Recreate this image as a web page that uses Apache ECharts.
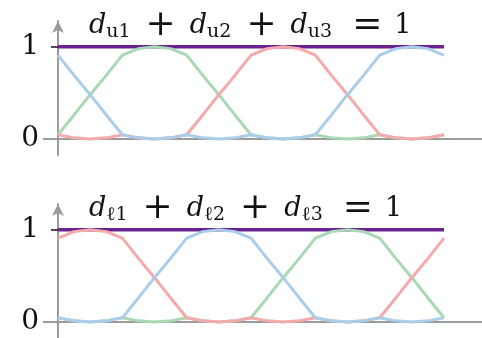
<!DOCTYPE html>
<html>
<head>
<meta charset="utf-8">
<script src="https://cdn.jsdelivr.net/npm/echarts@6/dist/echarts.min.js"></script>
<style>
  html, body { margin: 0; padding: 0; background: #fff; }
  #chart { width: 482px; height: 338px; }
</style>
</head>
<body>
<div id="chart"></div>
<script>
// Positions along the horizontal axis (six segments, quarter steps)
const knots = [0, 0.25, 0.5, 0.75, 1, 1.25, 1.5, 1.75, 2, 2.25, 2.5, 2.75, 3,
               3.25, 3.5, 3.75, 4, 4.25, 4.5, 4.75, 5, 5.25, 5.5, 5.75, 6];

// Upper panel: d_u1 (blue), d_u2 (green), d_u3 (red)
const upperBlue  = [0.91, 0.69, 0.48, 0.26, 0.045, 0.011, 0, 0.011, 0.045, 0.011, 0, 0.011, 0.045,
                    0.011, 0, 0.011, 0.045, 0.26, 0.48, 0.69, 0.91, 0.98, 1, 0.98, 0.91];
const upperGreen = [0.045, 0.26, 0.48, 0.69, 0.91, 0.98, 1, 0.98, 0.91, 0.69, 0.48, 0.26, 0.045,
                    0.011, 0, 0.011, 0.045, 0.011, 0, 0.011, 0.045, 0.011, 0, 0.011, 0.045];
const upperRed   = [0.045, 0.011, 0, 0.011, 0.045, 0.011, 0, 0.011, 0.045, 0.26, 0.48, 0.69, 0.91,
                    0.98, 1, 0.98, 0.91, 0.69, 0.48, 0.26, 0.045, 0.011, 0, 0.011, 0.045];

// Lower panel: d_l1 (red), d_l2 (blue), d_l3 (green)
const lowerRed   = [0.91, 0.98, 1, 0.98, 0.91, 0.69, 0.48, 0.26, 0.045, 0.011, 0, 0.011, 0.045,
                    0.011, 0, 0.011, 0.045, 0.011, 0, 0.011, 0.045, 0.26, 0.48, 0.69, 0.91];
const lowerBlue  = [0.045, 0.011, 0, 0.011, 0.045, 0.26, 0.48, 0.69, 0.91, 0.98, 1, 0.98, 0.91,
                    0.69, 0.48, 0.26, 0.045, 0.011, 0, 0.011, 0.045, 0.011, 0, 0.011, 0.045];
const lowerGreen = [0.045, 0.011, 0, 0.011, 0.045, 0.011, 0, 0.011, 0.045, 0.011, 0, 0.011, 0.045,
                    0.26, 0.48, 0.69, 0.91, 0.98, 1, 0.98, 0.91, 0.69, 0.48, 0.26, 0.045];

// The constant sum line
const sumX = [0, 6];
const sumY = [1, 1];

// Tick labels on the vertical axes
const yTicks = [0, 1];

const COLORS = { blue: '#aacdea', green: '#a8d8b4', red: '#f5a9aa', sum: '#6a2391', axis: '#9b9b9b' };
const SERIF = 'DejaVu Serif';
const Y_MIN = -0.175, Y_MAX = 1.28;

const pair = (xs, ys) => xs.map((x, i) => [x, ys[i]]);

function curve(name, ys, color, grid, z) {
  return {
    name, type: 'line', xAxisIndex: grid, yAxisIndex: grid * 2,
    data: pair(knots, ys), symbol: 'none', smooth: false, z,
    lineStyle: { color, width: 3 }, silent: true
  };
}

function sumSeries(grid) {
  return {
    type: 'line', xAxisIndex: grid, yAxisIndex: grid * 2,
    data: pair(sumX, sumY), symbol: 'none', z: 2,
    lineStyle: { color: COLORS.sum, width: 3.5 }, silent: true
  };
}

function xAxisFor(grid) {
  return {
    type: 'value', gridIndex: grid, min: 0, max: 6.59,
    axisLine: { onZero: true, lineStyle: { color: COLORS.axis, width: 2 } },
    axisTick: { show: false }, axisLabel: { show: false }, splitLine: { show: false }
  };
}

// Main vertical axis: arrowed line, labels, and the grey stub at 0
function yAxisFor(grid) {
  return {
    type: 'value', gridIndex: grid, position: 'left', min: Y_MIN, max: Y_MAX,
    axisLine: {
      onZero: false, symbol: ['none', 'arrow'], symbolSize: [9, 12],
      lineStyle: { color: COLORS.axis, width: 2 }
    },
    axisTick: { show: true, customValues: [0], length: 15, inside: false,
                lineStyle: { color: COLORS.axis, width: 2 } },
    axisLabel: { customValues: yTicks, margin: 19, color: '#111',
                 fontFamily: SERIF, fontSize: 28 },
    splitLine: { show: false }
  };
}

// Companion axis carrying only the short dark tick at 1
function yTickAxisFor(grid) {
  return {
    type: 'value', gridIndex: grid, position: 'left', min: Y_MIN, max: Y_MAX,
    axisLine: { show: false, onZero: false },
    axisTick: { show: true, customValues: [1], length: 7, inside: false,
                lineStyle: { color: '#111', width: 1.5 } },
    axisLabel: { show: false }, splitLine: { show: false }
  };
}

function equation(sub, top) {
  const base = { fontFamily: SERIF, fontWeight: 'normal', color: '#111' };
  const main = { ...base, fontSize: 27, fontStyle: 'italic', lineHeight: 32 };
  const op = { ...base, fontSize: 36, lineHeight: 32, padding: [0, 14, 0, 15] };
  const eq = { ...base, fontSize: 36, lineHeight: 32, padding: [0, 12, 0, 20] };
  const num = { ...base, fontSize: 27, lineHeight: 32 };
  const s = { ...base, fontSize: 19, lineHeight: 20, verticalAlign: 'bottom' };
  return {
    text: `{d|d}{s|${sub}1}{o|+}{d|d}{s|${sub}2}{o|+}{d|d}{s|${sub}3}{e|=}{n|1}`,
    left: 89, top, padding: 0,
    textStyle: { fontWeight: 'normal', rich: { d: main, o: op, e: eq, n: num, s } }
  };
}

const chart = echarts.init(document.getElementById('chart'), null, { renderer: 'canvas' });
chart.setOption({
  animation: false,
  backgroundColor: '#fff',
  title: [equation('u', 10), equation('ℓ', 193)],
  grid: [
    { left: 58, right: 0, top: 21, height: 134 },
    { left: 58, right: 0, top: 204, height: 134 }
  ],
  xAxis: [xAxisFor(0), xAxisFor(1)],
  yAxis: [yAxisFor(0), yTickAxisFor(0), yAxisFor(1), yTickAxisFor(1)],
  series: [
    sumSeries(0),
    curve('d_u2', upperGreen, COLORS.green, 0, 3),
    curve('d_u3', upperRed, COLORS.red, 0, 4),
    curve('d_u1', upperBlue, COLORS.blue, 0, 5),
    sumSeries(1),
    curve('d_l3', lowerGreen, COLORS.green, 1, 3),
    curve('d_l1', lowerRed, COLORS.red, 1, 4),
    curve('d_l2', lowerBlue, COLORS.blue, 1, 5)
  ]
});
</script>
</body>
</html>
